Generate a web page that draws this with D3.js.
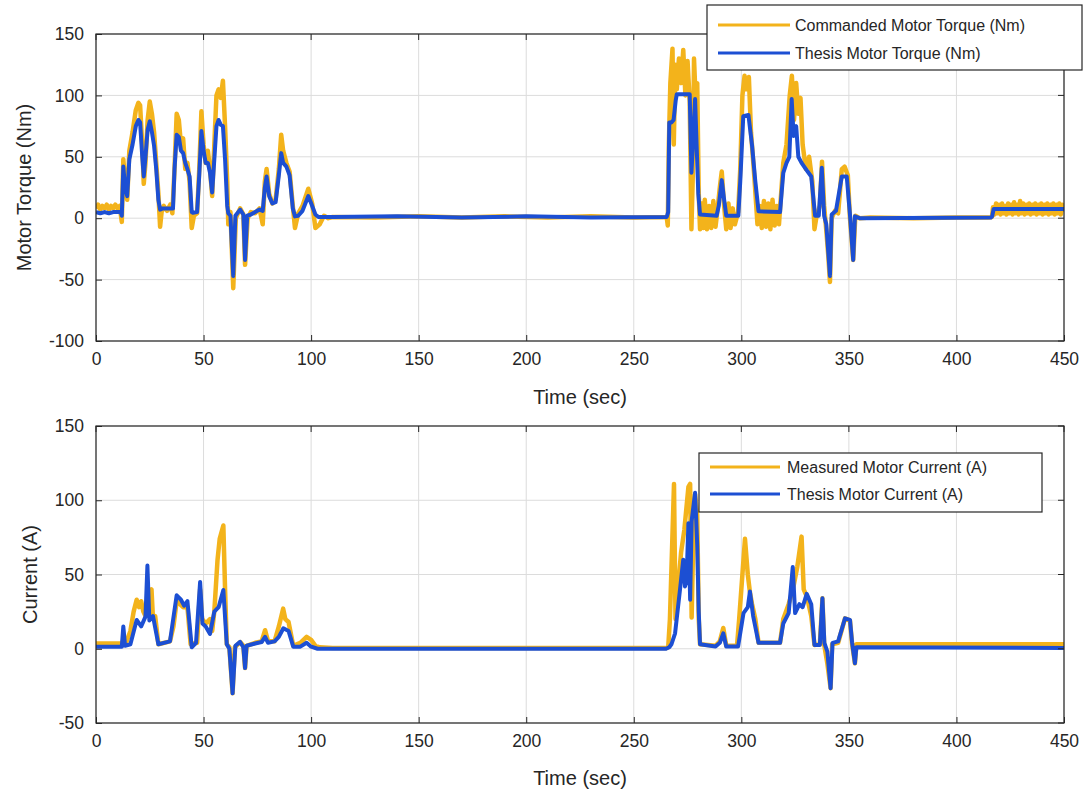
<!DOCTYPE html>
<html><head><meta charset="utf-8">
<script src="https://cdn.jsdelivr.net/npm/d3@7"></script>
<style>
html,body{margin:0;padding:0;background:#fff;}
svg{display:block;font-family:"Liberation Sans",Arial,sans-serif;}
</style></head>
<body>
<svg id="c" width="1091" height="794"></svg>
<script>
// ---------- DATA ----------
const xTicks = [0,50,100,150,200,250,300,350,400,450];
const torqueTicks = [-100,-50,0,50,100,150];
const currentTicks = [-50,0,50,100,150];

// [time (sec), value]
const commandedTorque = [[0,8],[1,11],[2,7],[3,10],[4,8],[5,11],[6,7],[7,10],[8,8],[9,11],[10,8],[11,10],[12,-3],[12.7,48],[13.5,30],[14.5,15],[15.5,55],[17,70],[18.5,88],[19.7,94],[20.5,92],[21.5,60],[22.2,28],[23,45],[24,80],[25,95],[26,85],[27,70],[28,45],[29,20],[29.8,-7],[30.5,5],[31.5,10],[33,6],[34.5,11],[35.5,4],[36.5,40],[37.5,85],[38.5,80],[39.5,60],[40.5,65],[41.5,40],[42.5,45],[43.5,30],[44.5,-8],[45.5,2],[47,4],[48,40],[49,87],[50,60],[51,45],[52,55],[53,40],[54,18],[55,60],[56,100],[57,105],[58,98],[59,112],[60,75],[61,30],[61.5,-5],[62.5,5],[63.8,-57],[65,0],[67,8],[68.5,3],[69.3,-38],[70.5,0],[72,5],[74,4],[76,8],[77.5,-5],[78.5,30],[79.3,40],[80.5,20],[82,12],[83.5,15],[85,40],[86.1,68],[87,55],[88.5,45],[90,38],[91.5,10],[92.5,-8],[94,4],[96,10],[98.7,24],[100.5,12],[102,-8],[104,-5],[106,2],[108,0],[110,1],[130,0.5],[150,1.5],[170,0.5],[190,1.5],[210,0.5],[230,1.5],[250,0.5],[265,1],
[265.3,1],[265.8,-6],[266.3,60],[267,110],[268,138],[268.6,60],[269.3,125],[270,105],[271,130],[272,110],[273,137],[274,100],[275,128],[276,95],[276.8,-9],[277.5,40],[278,130],[278.8,95],[279.5,110],[280.2,20],[280.8,-9],[281.5,12],[282.3,-8],[283,15],[284,-9],[285,10],[286,-8],[287,14],[288,-7],[289,8],[290,25],[290.9,38],[292,10],[293,-9],[294,12],[295,-8],[296,8],[297,-5],[298.5,5],[299.5,40],[300.5,100],[301.5,116],[302.5,105],[303.5,115],[304.5,70],[306,35],[307.5,-5],[308.5,10],[309.5,-8],[310.5,14],[311.5,-7],[312.5,12],[313.5,-9],[314.5,15],[315.5,-6],[316.5,10],[317.5,-5],[318.5,20],[319.5,45],[321,60],[322.5,100],[323.5,116],[324.5,80],[325.5,110],[326.5,85],[327.5,98],[328.5,60],[330,40],[331.5,50],[333,30],[334,-9],[335,2],[336.5,10],[337.5,46],[338.5,10],[339.5,-10],[340.4,-30],[341.2,-52],[342,0],[343.5,6],[345,4],[346,25],[346.7,40],[348,42],[349.5,35],[350.5,0],[352,-34],[353,2],[355,0],[360,0.5],[380,0],[400,0.5],[415,0.5],[416.5,1],
[417,9],[417.7,3],[418.4,12],[419.1,4],[419.8,11],[420.5,3],[421.2,12],[421.9,4],[422.6,10],[423.3,3],[424,12],[424.7,4],[425.4,11],[426.1,3],[426.8,13],[427.5,4],[428.2,11],[428.9,3],[429.6,14],[430.3,4],[431,12],[431.7,3],[432.4,11],[433.1,4],[433.8,12],[434.5,3],[435.2,11],[435.9,4],[436.6,12],[437.3,3],[438,11],[438.7,4],[439.4,12],[440.1,3],[440.8,11],[441.5,4],[442.2,12],[442.9,3],[443.6,11],[444.3,4],[445,12],[445.7,3],[446.4,11],[447.1,4],[447.8,12],[448.5,3],[449.2,11],[450,5]];

const thesisTorque = [[0,5],[2,4],[4,5],[6,4],[8,5],[10,5],[11.5,5],[12,2],[12.7,42],[13.5,25],[14.5,18],[15.5,48],[17,60],[18.5,75],[19.7,80],[20.5,78],[21.5,50],[22.2,34],[23,50],[24,72],[25,79],[26,70],[27,59],[28,40],[29,15],[29.8,7],[31,8],[33,8],[35,8],[35.8,8],[36.5,40],[37.5,68],[38.5,66],[39.5,55],[40.5,53],[41.5,45],[42.5,40],[43.5,34],[44.5,5],[45,4.5],[47,5],[48,35],[49,71],[50,55],[51,45],[52,45],[53,37],[54,21],[55,48],[56,75],[57,80],[58,76],[59,75],[60,48],[61,10],[61.5,4],[62.5,2],[63.8,-47],[64.8,2],[67,7],[68.5,3],[69.3,-34],[70.3,2],[72,3],[74,5],[76,7],[77.5,6],[78.5,25],[79.3,34],[80.5,18],[82,12],[83.5,13],[85,35],[86.1,53],[87,45],[88.5,42],[90,35],[91.5,8],[92.5,1.5],[94,2],[96,6],[98.7,18],[100.5,10],[102,3],[103.4,1],[110,1],[140,1.5],[170,0.5],[200,1.5],[230,0.5],[265.3,1],
[266,5],[266.5,78],[267.5,78],[268.5,80],[269.5,96],[270,101],[276,101],[276.8,37],[277.5,60],[278.5,97],[279.2,60],[280,20],[280.8,3],[288.5,2],[289.5,10],[290.9,31],[292,15],[293,2],[298.6,2],[299.5,30],[300.9,83],[303.3,84],[305,59],[306.5,30],[308,5.6],[318,5],[319.5,37],[321,45],[322.3,50],[323.4,97],[324.3,67],[325.5,75],[326.5,50],[328,45],[330,40],[332.5,34],[334.3,2],[336,2],[337.4,41],[338.5,2],[339.5,-5],[341.2,-47],[342,3],[344,6],[346.7,34],[349,34],[350.5,3],[352,-34],[352.8,1.5],[355,0],[416,0.5],[416.6,1.5],[417.3,7.5],[450,7.5]];

const measuredCurrent = [[0,3.5],[12,3.5],[12.7,6],[14,4],[16,12],[17.5,25],[18.9,33],[20,28],[21,32],[22,25],[23,22],[24,30],[25.8,40],[26.5,20],[27.5,22],[29,3],[34.4,5],[36,15],[37.5,32],[39,30],[40.5,28],[42.5,28],[44,3],[47,4],[48.4,40],[49.3,20],[51,17],[53,20],[54,12],[55,25],[56.5,60],[57.5,74],[59.2,83],[60,40],[60.8,3],[62,1],[63.5,-30],[64.5,1],[67,4.5],[68.5,2],[69.3,-13],[70,2],[74,4],[77,5],[78.6,12.5],[80,5],[83,5],[85,15],[87,27],[88,20],[89.5,18],[91.7,2],[95,4],[97.9,8],[100,6],[102,2],[104,1],[110,0.5],[265,0.5],
[266,1],[266.8,20],[268.7,111],[269.4,20],[270.5,40],[272,65],[273.5,80],[275.4,109],[276.2,111],[276.9,21],[277.6,70],[278.5,104],[279.5,90],[280.2,20],[280.8,3],[288,2],[290,5],[291.6,14],[293,2],[298,2],[299,20],[301.7,74],[303,50],[304,38],[305,30],[306.5,20],[308,4],[318,4],[319.5,20],[322,30],[324,40],[326,55],[328,75.5],[329,40],[330.5,35],[332.5,22],[334,2.6],[336.5,3],[337.7,34],[338.5,3],[340,-10],[341.5,-26.6],[342.2,3],[345,4],[348.2,20.5],[350.5,19],[351.5,3],[352.8,-9.8],[353.5,3],[355,3],[450,3]];

const thesisCurrent = [[0,1.4],[12,1.4],[12.7,15],[13.5,2],[16,3],[18.9,19.4],[21,15],[23,21.6],[23.9,56],[24.8,19],[26.5,22],[29,3],[34.4,5],[37.5,36],[39.5,33],[41,29],[42.5,32],[44.5,1],[46.5,4],[48.4,45],[49.5,17],[51,15],[53,10],[55,25],[57,28],[59.2,39.6],[60.8,3],[62,0],[63.5,-30],[64.8,2],[67,4.6],[68.5,1],[69.3,-13],[70,2],[74,3.5],[77,4.5],[78.6,8],[80,4],[83,5],[85,8],[87.1,13.8],[89.5,12],[91.7,1.4],[95,1.4],[97.9,4],[100,1.4],[103,0],[265,0],
[266.5,1],[267.5,3],[269.2,10.4],[271.5,40],[273,60],[273.8,42],[274.5,45],[275.4,84.5],[276.2,33],[276.9,86],[278.5,105],[279.5,70],[280.2,25],[280.8,3],[288,1.5],[290,4],[291.6,10.4],[293,1.5],[298.5,1.5],[301,24],[303,28],[304,38.5],[305.5,22],[308,4],[318,4],[319.5,17],[322,24],[323.9,55],[325,24],[327,30],[328.5,28],[330.4,37],[332.5,30],[334,2.6],[336.5,2.6],[337.7,34],[338.6,4],[340,-2],[341.5,-26.6],[342.4,4],[345,5],[348.2,20.5],[350.5,19.5],[351.5,4],[352.8,-9.8],[353.5,1],[450,0.5]];

// ---------- DRAW ----------
const ORANGE = "#F3B31B", BLUE = "#1C4FD3";
const svg = d3.select("#c");

function panel(cfg){
  const {left,right,top,bottom,yDomain,yTicks,series,yLabel,yLabelX,xLabelY,legend} = cfg;
  const x = d3.scaleLinear().domain([0,450]).range([left,right]);
  const y = d3.scaleLinear().domain(yDomain).range([bottom,top]);
  const g = svg.append("g");
  const id = "clip"+Math.round(top);
  svg.append("defs").append("clipPath").attr("id",id).append("rect")
    .attr("x",left).attr("y",top).attr("width",right-left).attr("height",bottom-top);

  // grid
  g.append("g").selectAll("line").data(xTicks).join("line")
    .attr("x1",d=>x(d)).attr("x2",d=>x(d)).attr("y1",top).attr("y2",bottom)
    .attr("stroke","#dcdcdc").attr("stroke-width",1);
  g.append("g").selectAll("line").data(yTicks).join("line")
    .attr("y1",d=>y(d)).attr("y2",d=>y(d)).attr("x1",left).attr("x2",right)
    .attr("stroke","#dcdcdc").attr("stroke-width",1);

  // series
  const line = d3.line().x(d=>x(d[0])).y(d=>y(d[1]));
  const sg = g.append("g").attr("clip-path",`url(#${id})`);
  series.forEach(s=>{
    sg.append("path").datum(s.data).attr("d",line).attr("fill","none")
      .attr("stroke",s.color).attr("stroke-width",s.width).attr("stroke-linejoin","round");
  });

  // box
  g.append("rect").attr("x",left).attr("y",top).attr("width",right-left).attr("height",bottom-top)
    .attr("fill","none").attr("stroke","#262626").attr("stroke-width",1.2);

  // axes (ticks inside)
  const fmt = d=>String(d);
  const xa = d3.axisBottom(x).tickValues(xTicks).tickFormat(fmt).tickSizeInner(-6).tickSizeOuter(0).tickPadding(12);
  const ya = d3.axisLeft(y).tickValues(yTicks).tickFormat(fmt).tickSizeInner(-6).tickSizeOuter(0).tickPadding(12);
  const gx = g.append("g").attr("transform",`translate(0,${bottom})`).call(xa);
  const gy = g.append("g").attr("transform",`translate(${left},0)`).call(ya);
  [gx,gy].forEach(a=>{
    a.select(".domain").remove();
    a.selectAll("line").attr("stroke","#262626");
    a.selectAll("text").attr("fill","#262626").style("font-size","17.5px")
      .style("font-family","'Liberation Sans',Arial,sans-serif");
  });
  // top & right ticks
  g.append("g").selectAll("line").data(xTicks).join("line")
    .attr("x1",d=>x(d)).attr("x2",d=>x(d)).attr("y1",top).attr("y2",top+6).attr("stroke","#262626");
  g.append("g").selectAll("line").data(yTicks).join("line")
    .attr("y1",d=>y(d)).attr("y2",d=>y(d)).attr("x1",right).attr("x2",right-6).attr("stroke","#262626");

  // labels
  g.append("text").attr("x",(left+right)/2).attr("y",xLabelY).attr("text-anchor","middle")
    .attr("fill","#262626").style("font-size","20px").text("Time (sec)");
  g.append("text").attr("transform",`translate(${yLabelX},${(top+bottom)/2}) rotate(-90)`)
    .attr("text-anchor","middle").attr("fill","#262626").style("font-size","20px").text(yLabel);

  // legend
  const L = legend;
  const lg = svg.append("g");
  lg.append("rect").attr("x",L.x).attr("y",L.y).attr("width",L.w).attr("height",L.h)
    .attr("fill","#fff").attr("stroke","#262626").attr("stroke-width",1.2);
  series.forEach((s,i)=>{
    const yy = L.y + L.row0 + i*L.dy;
    lg.append("line").attr("x1",L.x+L.lx0).attr("x2",L.x+L.lx1).attr("y1",yy).attr("y2",yy)
      .attr("stroke",s.color).attr("stroke-width",3);
    lg.append("text").attr("x",L.x+L.tx).attr("y",yy).attr("dy","0.36em")
      .attr("fill","#262626").style("font-size","16px").text(s.name);
  });
}

panel({left:96,right:1064,top:34,bottom:341,yDomain:[-100,150],yTicks:torqueTicks,
  series:[{data:commandedTorque,color:ORANGE,width:4.5,name:"Commanded Motor Torque (Nm)"},
          {data:thesisTorque,color:BLUE,width:4,name:"Thesis Motor Torque (Nm)"}],
  yLabel:"Motor Torque (Nm)",yLabelX:31,xLabelY:404,
  legend:{x:707,y:5,w:375,h:65,row0:20,dy:28,lx0:11,lx1:83,tx:88}});

panel({left:96,right:1064,top:426,bottom:723,yDomain:[-50,150],yTicks:currentTicks,
  series:[{data:measuredCurrent,color:ORANGE,width:4.5,name:"Measured Motor Current (A)"},
          {data:thesisCurrent,color:BLUE,width:4,name:"Thesis Motor Current (A)"}],
  yLabel:"Current (A)",yLabelX:37,xLabelY:785,
  legend:{x:699,y:453,w:343,h:59,row0:14,dy:27,lx0:11,lx1:81,tx:88}});
</script>
</body></html>
